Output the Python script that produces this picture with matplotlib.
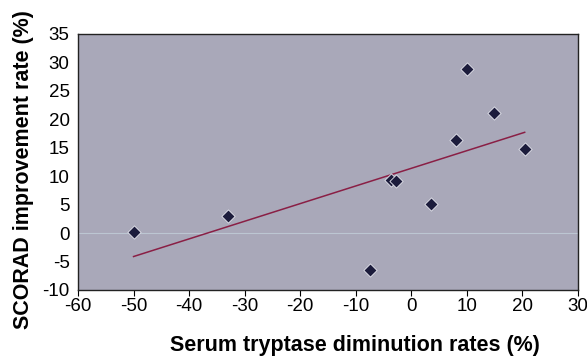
import numpy as np
import matplotlib.pyplot as plt

plt.rcParams['font.family'] = ['Liberation Sans', 'DejaVu Sans']
plt.rcParams['axes.unicode_minus'] = False

# serum tryptase diminution rate (%) vs SCORAD improvement rate (%)
tryptase = [-50, -33, -7.5, -3.6, -2.7, 3.6, 8.0, 10.0, 14.8, 20.4]
scorad = [0.2, 3.0, -6.4, 9.3, 9.2, 5.1, 16.3, 28.8, 21.2, 14.8]

x_ticks = [-60, -50, -40, -30, -20, -10, 0, 10, 20, 30]
y_ticks = [-10, -5, 0, 5, 10, 15, 20, 25, 30, 35]


def plot_scatter(x, y):
    fig = plt.figure(figsize=(5.87, 3.63), dpi=100)
    ax = fig.add_axes([78 / 587, 73 / 363, 500 / 587, 256 / 363])
    ax.set_facecolor('#a9a8b9')

    # faint zero line like in the scanned figure
    ax.axhline(0, color='#bcc6d2', lw=0.8, zorder=1)

    a, b = np.polyfit(x, y, 1)
    xs = np.array([min(x), max(x)])
    ax.plot(xs, a * xs + b, color='#8a1f45', lw=1.1, zorder=2)

    ax.scatter(x, y, marker='D', s=45, color='#1c1c3c',
               edgecolors='#e8e8f0', linewidths=0.6, zorder=3)

    ax.set_xlim(-60, 30)
    ax.set_ylim(-10, 35)
    ax.set_xticks(x_ticks)
    ax.set_yticks(y_ticks)
    ax.tick_params(axis='both', labelsize=13.5, length=4, direction='out')
    ax.tick_params(axis='y', length=0, pad=6)
    ax.tick_params(axis='x', pad=2)
    for s in ax.spines.values():
        s.set_color('#222222')
        s.set_linewidth(1.0)

    fig.text(355 / 587, 1 - 346 / 363, 'Serum tryptase diminution rates (%)',
             fontsize=15.5, fontweight='bold', ha='center', va='center')
    fig.text(24 / 587, 1 - 170 / 363, 'SCORAD improvement rate (%)',
             fontsize=15.5, fontweight='bold', ha='center', va='center',
             rotation=90)

    fig.savefig('out.png', dpi=100)


if __name__ == '__main__':
    plot_scatter(tryptase, scorad)
